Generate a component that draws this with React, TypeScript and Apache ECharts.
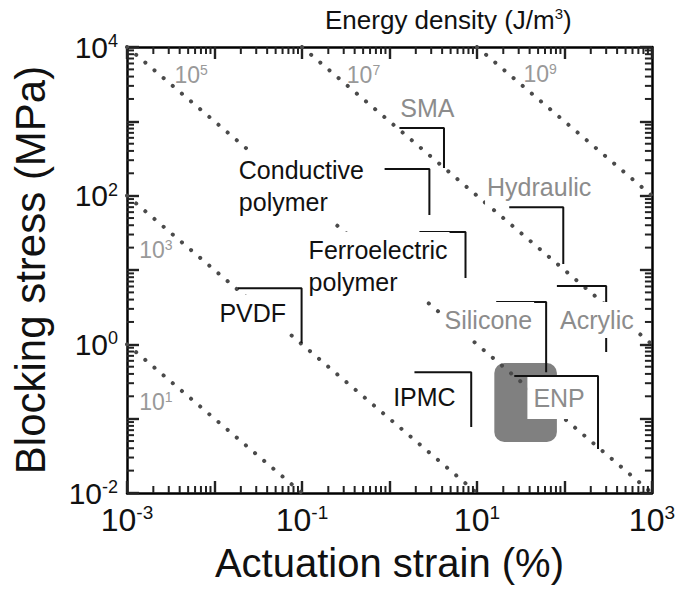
import React, { useEffect, useRef } from 'react';
import * as echarts from 'echarts';

const FONT = '"Liberation Sans", Arial, Helvetica, sans-serif';

// axis ranges
const strainRange = [1e-3, 1e3];
const stressRange = [1e-2, 1e4];
const decadeStartsX = [1e-3, 1e-2, 1e-1, 1, 10, 100];
const decadeStartsY = [1e-2, 1e-1, 1, 10, 100, 1000];
const minorMultipliers = [2, 3, 4, 5, 6, 7, 8, 9];

// iso energy density lines (J/m^3)
const isoExponents = ['1', '3', '5', '7', '9'];
const isoStarts = [[1e-3, 1], [1e-3, 100], [1e-3, 1e4], [0.1, 1e4], [10, 1e4]];
const isoEnds = [[0.1, 0.01], [10, 0.01], [1e3, 0.01], [1e3, 1], [1e3, 100]];
const isoLabelStrain = [0.00214, 0.00214, 0.0054, 0.505, 52.7];
const isoLabelStress = [0.1675, 18.6, 4200, 4200, 4330];

// materials
const materialNames = ['SMA', 'Conductive\npolymer', 'Ferroelectric\npolymer', 'Hydraulic', 'PVDF', 'Acrylic', 'Silicone', 'IPMC', 'ENP'];
const materialGray = [true, false, false, true, false, true, true, false, true];
const bracketStrainStart = [1.3, 0.88, 2.2, 23.4, 0.0185, 82, 16.6, 1.93, 26.7];
const bracketStrainEnd = [4.2, 2.86, 7.4, 97, 0.099, 300, 61.8, 8.6, 242];
const bracketStressTop = [813, 229, 32.4, 70, 5.7, 6.1, 3.7, 0.42, 0.375];
const bracketStressBottom = [236, 55, 7.8, 12, 1.04, 0.79, 0.42, 0.077, 0.039];
const labelStrain = [2.71, 0.018, 0.113, 51.4, 0.0274, 235, 13.5, 2.51, 86.9];
const labelStress = [1510, 135, 11.3, 131, 2.64, 2.12, 2.12, 0.195, 0.19];
const labelAlign = ['center', 'left', 'left', 'center', 'center', 'center', 'center', 'center', 'center'];

// ENP region
const enpStrain = [15.8, 82];
const enpStress = [0.0485, 0.56];

const GRAY_TEXT = '#8c8c8c';
const DOT_COLOR = '#4a4a4a';
const TICK_COLOR = '#222222';

function expOf(v: number) {
  return Math.round(Math.log10(v));
}

function supLabel(v: number, showOdd: boolean) {
  const e = expOf(v);
  const odd = Math.abs(e) % 2 === 1;
  if (odd !== showOdd) return '';
  return `{b|10}{s|${e}}`;
}

function buildOption() {
  const xMinor: number[][] = [];
  decadeStartsX.forEach((d) => minorMultipliers.forEach((m) => xMinor.push([d * m, stressRange[0]])));
  const yMinor: number[][] = [];
  decadeStartsY.forEach((d) => minorMultipliers.forEach((m) => yMinor.push([strainRange[0], d * m])));

  const axisCommon = {
    type: 'log',
    logBase: 10,
    splitNumber: 6,
    splitLine: { show: false },
    axisLine: { show: true, lineStyle: { color: '#000', width: 2.5 } },
    axisTick: { show: true, inside: true, length: 12, lineStyle: { color: TICK_COLOR, width: 2.4 } },
  };

  const series: any[] = [];

  // ENP gray region
  series.push({
    type: 'custom',
    z: 1,
    silent: true,
    data: [[enpStrain[0], enpStress[1], enpStrain[1], enpStress[0]]],
    renderItem: (params: any, api: any) => {
      const p1 = api.coord([api.value(0), api.value(1)]);
      const p2 = api.coord([api.value(2), api.value(3)]);
      return {
        type: 'rect',
        shape: { x: p1[0], y: p1[1], width: p2[0] - p1[0], height: p2[1] - p1[1], r: 10 },
        style: { fill: '#808080' },
      };
    },
  });

  // iso lines
  isoExponents.forEach((e, i) => {
    series.push({
      type: 'line',
      z: 2,
      silent: true,
      symbol: 'none',
      data: [isoStarts[i], isoEnds[i]],
      lineStyle: { color: DOT_COLOR, width: 4, type: [0.1, 11.9], cap: 'round' },
    });
  });

  // iso labels
  series.push({
    type: 'custom',
    z: 3,
    silent: true,
    data: isoExponents.map((e, i) => [isoLabelStrain[i], isoLabelStress[i], i]),
    renderItem: (params: any, api: any) => {
      const p = api.coord([api.value(0), api.value(1)]);
      const idx = api.value(2);
      return {
        type: 'text',
        x: p[0],
        y: p[1],
        style: {
          text: `{b|10}{s|${isoExponents[idx]}}`,
          align: 'center',
          verticalAlign: 'middle',
          rich: {
            b: { fontSize: 23, lineHeight: 24, fontFamily: FONT, fill: '#999' },
            s: { fontSize: 14, lineHeight: 14, verticalAlign: 'top', fontFamily: FONT, fill: '#999' },
          },
        },
      };
    },
  });

  // brackets
  materialNames.forEach((n, i) => {
    series.push({
      type: 'line',
      z: 4,
      silent: true,
      symbol: 'none',
      data: [
        [bracketStrainStart[i], bracketStressTop[i]],
        [bracketStrainEnd[i], bracketStressTop[i]],
        [bracketStrainEnd[i], bracketStressBottom[i]],
      ],
      lineStyle: { color: '#111', width: 2 },
    });
  });

  // material labels
  series.push({
    type: 'custom',
    z: 5,
    silent: true,
    data: materialNames.map((n, i) => [labelStrain[i], labelStress[i], i]),
    renderItem: (params: any, api: any) => {
      const p = api.coord([api.value(0), api.value(1)]);
      const idx = api.value(2);
      return {
        type: 'text',
        x: p[0],
        y: p[1],
        style: {
          text: materialNames[idx],
          align: labelAlign[idx],
          verticalAlign: 'middle',
          fontSize: 25,
          lineHeight: 32,
          fontFamily: FONT,
          fill: materialGray[idx] ? GRAY_TEXT : '#111',
          backgroundColor: '#fff',
          padding: idx === 8 ? [5, 6, 5, 6] : [2, 2, 2, 2],
        },
      };
    },
  });

  // minor ticks on x (bottom and top)
  series.push({
    type: 'custom',
    z: 6,
    silent: true,
    clip: false,
    data: xMinor,
    renderItem: (params: any, api: any) => {
      const v = api.value(0);
      const pb = api.coord([v, stressRange[0]]);
      const pt = api.coord([v, stressRange[1]]);
      return {
        type: 'group',
        children: [
          { type: 'line', shape: { x1: pb[0], y1: pb[1], x2: pb[0], y2: pb[1] - 7 }, style: { stroke: TICK_COLOR, lineWidth: 2 } },
          { type: 'line', shape: { x1: pt[0], y1: pt[1], x2: pt[0], y2: pt[1] + 7 }, style: { stroke: TICK_COLOR, lineWidth: 2 } },
        ],
      };
    },
  });

  // minor ticks on y (left and right)
  series.push({
    type: 'custom',
    z: 6,
    silent: true,
    clip: false,
    data: yMinor,
    renderItem: (params: any, api: any) => {
      const v = api.value(1);
      const pl = api.coord([strainRange[0], v]);
      const pr = api.coord([strainRange[1], v]);
      return {
        type: 'group',
        children: [
          { type: 'line', shape: { x1: pl[0], y1: pl[1], x2: pl[0] + 7, y2: pl[1] }, style: { stroke: TICK_COLOR, lineWidth: 2 } },
          { type: 'line', shape: { x1: pr[0], y1: pr[1], x2: pr[0] - 7, y2: pr[1] }, style: { stroke: TICK_COLOR, lineWidth: 2 } },
        ],
      };
    },
  });

  return {
    animation: false,
    backgroundColor: '#fff',
    grid: { left: 127, top: 47, width: 526, height: 446, containLabel: false },
    graphic: [
      {
        type: 'text',
        left: 325,
        top: 6,
        style: {
          text: '{a|Energy density (J/m}{s|3}{a|)}',
          rich: {
            a: { fontSize: 26, lineHeight: 28, fontFamily: FONT, fill: '#111' },
            s: { fontSize: 15, lineHeight: 15, verticalAlign: 'top', fontFamily: FONT, fill: '#111' },
          },
        },
      },
    ],
    xAxis: [
      {
        ...axisCommon,
        position: 'bottom',
        min: strainRange[0],
        max: strainRange[1],
        name: 'Actuation strain (%)',
        nameLocation: 'middle',
        nameGap: 50,
        nameTextStyle: { fontSize: 40, fontFamily: FONT, color: '#111' },
        axisLabel: {
          show: true,
          margin: 10,
          formatter: (v: number) => supLabel(v, true),
          rich: {
            b: { fontSize: 32, lineHeight: 34, fontFamily: FONT, color: '#111' },
            s: { fontSize: 19, lineHeight: 19, verticalAlign: 'top', fontFamily: FONT, color: '#111' },
          },
        },
      },
      {
        ...axisCommon,
        position: 'top',
        min: strainRange[0],
        max: strainRange[1],
        axisLabel: { show: false },
      },
    ],
    yAxis: [
      {
        ...axisCommon,
        position: 'left',
        min: stressRange[0],
        max: stressRange[1],
        name: 'Blocking stress (MPa)',
        nameLocation: 'middle',
        nameGap: 76,
        nameTextStyle: { fontSize: 42, fontFamily: FONT, color: '#111' },
        axisLabel: {
          show: true,
          margin: 9,
          formatter: (v: number) => supLabel(v, false),
          rich: {
            b: { fontSize: 30, lineHeight: 30, fontFamily: FONT, color: '#111' },
            s: { fontSize: 18, lineHeight: 18, verticalAlign: 'top', fontFamily: FONT, color: '#111' },
          },
        },
      },
      {
        ...axisCommon,
        position: 'right',
        min: stressRange[0],
        max: stressRange[1],
        axisLabel: { show: false },
      },
    ],
    series,
  };
}

export default function App() {
  const ref = useRef<HTMLDivElement>(null);
  useEffect(() => {
    if (!ref.current) return;
    const chart = echarts.init(ref.current, null, { renderer: 'svg' });
    chart.setOption(buildOption() as any);
    return () => chart.dispose();
  }, []);
  return (
    <div
      ref={ref}
      style={{ position: 'fixed', left: 0, top: 0, width: 678, height: 592, background: '#fff' }}
    />
  );
}
